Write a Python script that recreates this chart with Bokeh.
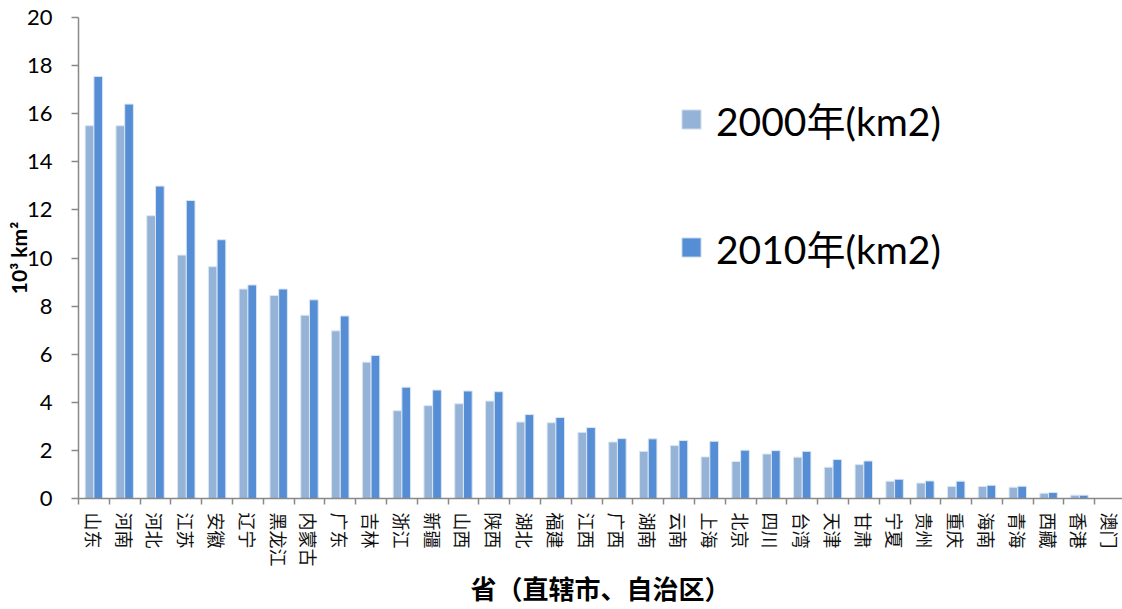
from bokeh.plotting import figure
from bokeh.models import Range1d, FixedTicker, Legend, LegendItem, ColumnDataSource
from bokeh.transform import dodge
from bokeh.embed import file_html
from bokeh.resources import INLINE

provinces = ["山东", "河南", "河北", "江苏", "安徽", "辽宁", "黑龙江", "内蒙古", "广东", "吉林",
             "浙江", "新疆", "山西", "陕西", "湖北", "福建", "江西", "广西", "湖南", "云南",
             "上海", "北京", "四川", "台湾", "天津", "甘肃", "宁夏", "贵州", "重庆", "海南",
             "青海", "西藏", "香港", "澳门"]
area_2000 = [15.5, 15.5, 11.76, 10.12, 9.64, 8.71, 8.44, 7.62, 6.97, 5.67,
             3.65, 3.86, 3.94, 4.05, 3.18, 3.15, 2.75, 2.35, 1.96, 2.20,
             1.73, 1.54, 1.85, 1.72, 1.30, 1.41, 0.72, 0.64, 0.50, 0.50,
             0.47, 0.22, 0.14, 0.0]
area_2010 = [17.55, 16.40, 12.99, 12.39, 10.76, 8.88, 8.71, 8.26, 7.59, 5.95,
             4.63, 4.51, 4.47, 4.44, 3.49, 3.37, 2.95, 2.49, 2.48, 2.41,
             2.38, 2.01, 1.99, 1.96, 1.62, 1.56, 0.80, 0.73, 0.72, 0.55,
             0.51, 0.25, 0.14, 0.0]
series_labels = ["2000年(km2)", "2010年(km2)"]
y_ticks = list(range(0, 21, 2))

n = len(provinces)
centers = [i + 0.5 for i in range(n)]
source = ColumnDataSource(dict(x=centers, a2000=area_2000, a2010=area_2010, name=provinces))

p = figure(width=1122, height=609, output_backend="svg", toolbar_location=None,
           x_range=Range1d(0, 33.9), y_range=Range1d(0, 20),
           min_border_left=78, min_border_right=0, min_border_top=17, min_border_bottom=110)
p.outline_line_color = None
p.xgrid.visible = False
p.ygrid.visible = False
p.background_fill_color = "white"

bw = 0.283
r1 = p.vbar(x=dodge('x', -bw / 2), top='a2000', width=bw, source=source,
            fill_color="#95B3D7", line_color="#DCE6F2", line_width=1)
r2 = p.vbar(x=dodge('x', bw / 2), top='a2010', width=bw, source=source,
            fill_color="#558ED5", line_color="#DCE6F2", line_width=1)

axis_col = "#898989"
# x axis
xa = p.xaxis[0]
xa.ticker = FixedTicker(ticks=centers, minor_ticks=list(range(0, n + 1)))
xa.major_label_overrides = {c: name for c, name in zip(centers, provinces)}
xa.major_label_orientation = "vertical"
xa.major_tick_line_color = None
xa.major_tick_out = 6
xa.major_tick_in = 0
xa.minor_tick_line_color = axis_col
xa.minor_tick_line_width = 1.5
xa.minor_tick_out = 6
xa.minor_tick_in = 0
xa.axis_line_color = axis_col
xa.axis_line_width = 1.5
xa.major_label_standoff = 8
xa.major_label_text_font = "Noto Sans CJK SC"
xa.major_label_text_font_size = "18px"
xa.major_label_text_color = "#111111"
xa.axis_label = "省（直辖市、自治区）"
xa.axis_label_text_font = "Noto Sans CJK SC"
xa.axis_label_text_font_size = "26px"
xa.axis_label_text_font_style = "bold"
xa.axis_label_text_color = "black"
xa.axis_label_standoff = 0

# y axis
ya = p.yaxis[0]
ya.ticker = FixedTicker(ticks=y_ticks)
ya.minor_tick_line_color = None
ya.major_tick_line_color = axis_col
ya.major_tick_line_width = 1.5
ya.major_tick_out = 7
ya.major_tick_in = 0
ya.axis_line_color = axis_col
ya.axis_line_width = 1.5
ya.major_label_standoff = 19
ya.major_label_text_font = "Lato"
ya.major_label_text_font_size = "22px"
ya.major_label_text_color = "black"
ya.axis_label = "10³ km²"
ya.axis_label_text_font = "Lato"
ya.axis_label_text_font_size = "21px"
ya.axis_label_text_font_style = "bold"
ya.axis_label_text_color = "black"
ya.axis_label_standoff = -7

legend = Legend(items=[LegendItem(label=series_labels[0], renderers=[r1]),
                       LegendItem(label=series_labels[1], renderers=[r2])],
                location=(601, 223), orientation="vertical",
                glyph_width=24, glyph_height=24, label_standoff=13,
                spacing=72, padding=0, margin=0,
                label_text_font="Lato, 'Noto Sans CJK SC'", label_text_font_size="39px",
                label_text_color="black",
                border_line_color=None, background_fill_alpha=0)
p.add_layout(legend)

open("out.html", "w").write(file_html(p, INLINE))
